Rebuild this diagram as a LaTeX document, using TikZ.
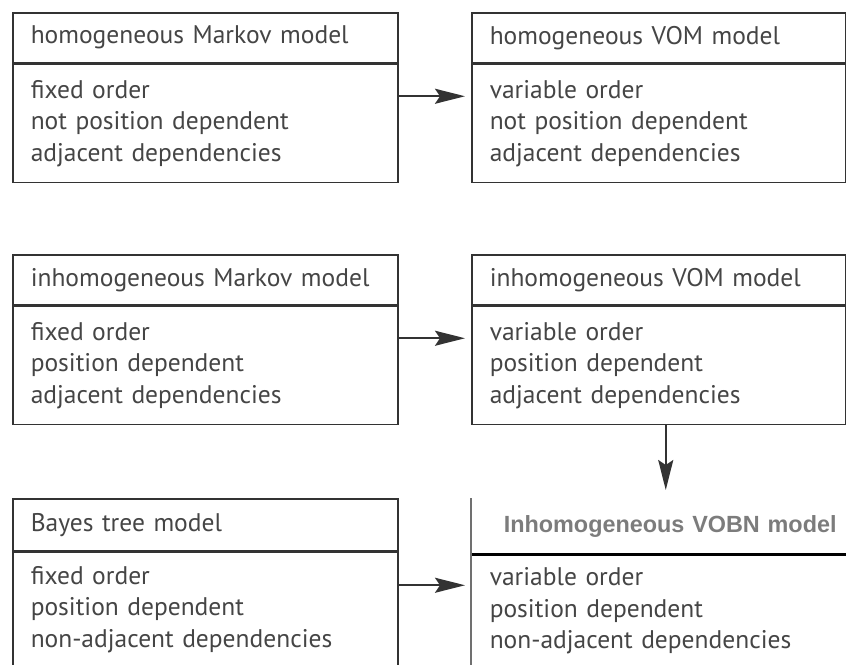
\documentclass[tikz,border=0pt]{standalone}
\usepackage{fontspec}
\setmainfont{PT Sans}
\newfontfamily\headfont{Liberation Sans}
\usetikzlibrary{arrows.meta,positioning}
\definecolor{edge}{HTML}{333333}
\definecolor{ink}{HTML}{454545}
\definecolor{dim}{HTML}{7C7C7C}
\tikzset{head/.style={draw=edge,line width=1.5pt,anchor=north west,minimum width=385pt,minimum height=50pt,text width=349pt,inner xsep=18pt,inner ysep=0pt,align=left,font=\fontsize{25.5}{28}\selectfont,text=ink},body/.style={draw=edge,line width=1.5pt,minimum width=385pt,minimum height=118pt,text width=349pt,inner xsep=18pt,inner ysep=0pt,align=left,font=\fontsize{25.5}{31.5}\selectfont,text=ink},wide/.style={minimum width=374pt,text width=338pt},flow/.style={-{Stealth[length=30pt,width=15pt,inset=5pt]},line width=2pt,draw=edge,shorten >=6pt}}

\begin{document}
\begin{tikzpicture}[x=1pt,y=-1pt]
\useasboundingbox (0,0) rectangle (846,664);
\node[head] (mh) at (12,12) {homogeneous Markov model};
\node[body,below=0pt of mh] (mb) {fixed order\\not position dependent\\adjacent dependencies};
\node[head,wide] (vh) at (471,12) {homogeneous VOM model};
\node[body,wide,below=0pt of vh] (vb) {variable order\\not position dependent\\adjacent dependencies};
\node[head] (ih) at (12,254) {inhomogeneous Markov model};
\node[body,below=0pt of ih] (ib) {fixed order\\position dependent\\adjacent dependencies};
\node[head,wide] (wh) at (471,254) {inhomogeneous VOM model};
\node[body,wide,below=0pt of wh] (wb) {variable order\\position dependent\\adjacent dependencies};
\node[head,minimum height=52pt] (th) at (12,498) {Bayes tree model};
\node[body,minimum height=114pt,below=0pt of th] (tb) {fixed order\\position dependent\\non-adjacent dependencies};
% last box: open frame, bold title
\node[head,draw=none,minimum height=55pt,minimum width=404pt,text width=340pt,inner xsep=32pt,text=dim,font=\headfont\bfseries\fontsize{23.4}{28}\selectfont] (nh) at (471,498) {Inhomogeneous VOBN model};
\node[body,draw=none,minimum height=111pt,minimum width=404pt,text width=368pt,below=0pt of nh] (nb) {variable order\\position dependent\\non-adjacent dependencies};
\draw[line width=3pt] (nh.south west) -- (nh.south east);
\draw[edge!70,line width=1.5pt] (nh.north west) -- (nb.south west);
\draw[flow] ([yshift=27pt]mb.east) -- ([yshift=27pt]vb.west);
\draw[flow] ([yshift=27pt]ib.east) -- ([yshift=27pt]wb.west);
\draw[flow] ([yshift=24pt]tb.east) -- ([yshift=24pt]tb.east -| nb.west);
\draw[flow,shorten >=8pt] ([xshift=7pt]wb.south) -- ([xshift=7pt]wb.south |- nh.north);
\end{tikzpicture}
\end{document}
